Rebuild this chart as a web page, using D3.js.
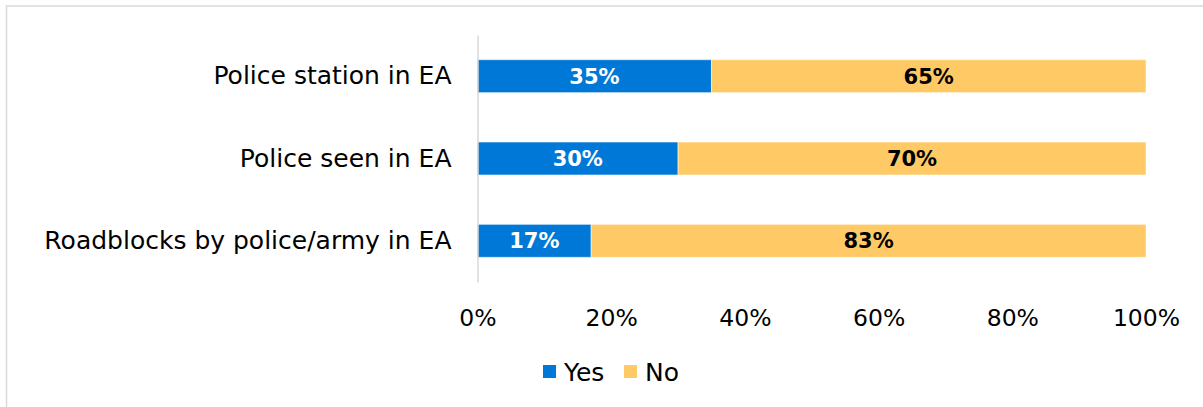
<!DOCTYPE html>
<html>
<head>
<meta charset="utf-8">
<script src="https://cdn.jsdelivr.net/npm/d3@7"></script>
<style>
  html, body { margin: 0; padding: 0; background: #fff; }
  svg { display: block; font-family: "Century Gothic", "DejaVu Sans", sans-serif; }
</style>
</head>
<body>
<svg id="chart" width="1203" height="407"></svg>
<script>
// Survey items (top to bottom) and the share answering Yes / No
const categories = ["Police station in EA", "Police seen in EA", "Roadblocks by police/army in EA"];
const yesValues = [0.35, 0.30, 0.17];
const noValues = [0.65, 0.70, 0.83];
const seriesNames = ["Yes", "No"];
const seriesColors = ["#0078D7", "#FFCA66"];
const labelColors = ["#ffffff", "#000000"];
const xTicks = [0, 0.2, 0.4, 0.6, 0.8, 1.0];

const FONT = "\"Century Gothic\", \"DejaVu Sans\", sans-serif";

const svg = d3.select("#chart");

// Chart frame
svg.append("rect")
  .attr("x", 6.5).attr("y", 6)
  .attr("width", 1250).attr("height", 450)
  .attr("fill", "none")
  .attr("stroke", "#d9d9d9")
  .attr("stroke-width", 1.5);

const x = d3.scaleLinear().domain([0, 1]).range([477.5, 1146]);
const y = d3.scaleBand().domain(categories).range([35, 282]).paddingInner(0.6).paddingOuter(0.3);

// Stack Yes then No per category
const rows = categories.map((c, i) => ({ cat: c, Yes: yesValues[i], No: noValues[i] }));
const stacked = d3.stack().keys(seriesNames)(rows);

const layers = svg.append("g").selectAll("g")
  .data(stacked)
  .join("g")
  .attr("fill", (d, i) => seriesColors[i]);

layers.selectAll("rect")
  .data(d => d)
  .join("rect")
  .attr("x", d => x(d[0]))
  .attr("y", d => y(d.data.cat))
  .attr("width", d => x(d[1]) - x(d[0]))
  .attr("height", y.bandwidth())
  .attr("stroke", "rgba(255,255,255,0.5)")
  .attr("stroke-width", 1);

// Value labels centred in each segment
layers.each(function (layer, li) {
  d3.select(this).selectAll("text")
    .data(layer)
    .join("text")
    .attr("x", d => (x(d[0]) + x(d[1])) / 2)
    .attr("y", d => y(d.data.cat) + y.bandwidth() / 2)
    .attr("dy", "0.36em")
    .attr("text-anchor", "middle")
    .attr("font-size", 21)
    .attr("font-weight", "bold")
    .attr("fill", labelColors[li])
    .text(d => d3.format(".0%")(d[1] - d[0]));
});

// Category axis
const yAxis = svg.append("g")
  .attr("transform", `translate(${x(0)},0)`)
  .call(d3.axisLeft(y).tickSize(0).tickPadding(26));
yAxis.select(".domain").attr("stroke", "#d9d9d9").attr("stroke-width", 1.5);
yAxis.selectAll("text")
  .attr("font-size", 25)
  .attr("fill", "#000")
  .attr("font-family", FONT);

// Percentage axis
const xAxis = svg.append("g")
  .attr("transform", "translate(0,300)")
  .call(d3.axisBottom(x).tickValues(xTicks).tickFormat(d3.format(".0%")).tickSize(0).tickPadding(9));
xAxis.select(".domain").remove();
xAxis.selectAll("text")
  .attr("font-size", 23.5)
  .attr("fill", "#000")
  .attr("font-family", FONT);

// Legend
const legendItems = [
  { name: seriesNames[0], color: seriesColors[0], x: 543 },
  { name: seriesNames[1], color: seriesColors[1], x: 624 }
];
const legend = svg.append("g");
legendItems.forEach(it => {
  legend.append("rect")
    .attr("x", it.x).attr("y", 365)
    .attr("width", 13).attr("height", 13)
    .attr("fill", it.color);
  legend.append("text")
    .attr("x", it.x + 21).attr("y", 371.5)
    .attr("dy", "0.36em")
    .attr("font-size", 25)
    .attr("fill", "#000")
    .text(it.name);
});
</script>
</body>
</html>
